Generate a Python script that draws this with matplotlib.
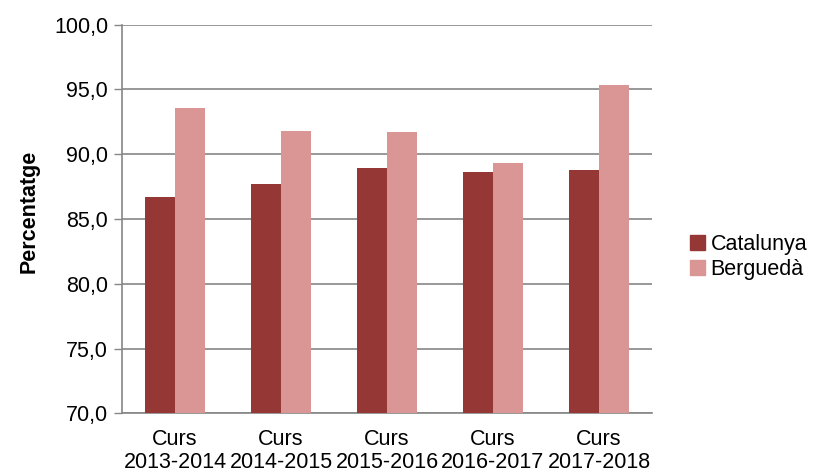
import matplotlib.pyplot as plt
import numpy as np
from matplotlib.patches import Patch

plt.rcParams['font.family'] = ['Liberation Sans', 'DejaVu Sans']

# data
cursos = ['Curs\n2013-2014', 'Curs\n2014-2015', 'Curs\n2015-2016',
          'Curs\n2016-2017', 'Curs\n2017-2018']
catalunya = [86.7, 87.7, 88.9, 88.6, 88.8]
bergueda = [93.6, 91.8, 91.7, 89.3, 95.3]
yticks = [70, 75, 80, 85, 90, 95, 100]

col_cat = '#953735'
col_ber = '#D99694'
grey = '#868686'

fig = plt.figure(figsize=(8.16, 4.72), dpi=100)
ax = fig.add_axes([0.1495, 0.124, 0.6495, 0.824])

x = np.arange(len(cursos))
w = 0.283
ax.bar(x - w/2, catalunya, w, color=col_cat, zorder=3)
ax.bar(x + w/2, bergueda, w, color=col_ber, zorder=3)

ax.set_xlim(-0.5, len(cursos) - 0.5)
ax.set_ylim(70, 100)
ax.set_yticks(yticks)
ax.yaxis.set_major_formatter(plt.FuncFormatter(lambda v, p: ('%.1f' % v).replace('.', ',')))
ax.set_xticks(x)
ax.set_xticklabels(cursos, fontsize=15.5, linespacing=1.12)
ax.tick_params(axis='x', length=0, pad=11)
ax.tick_params(axis='y', length=6, width=1, color=grey, labelsize=15.5, pad=4)

ax.grid(axis='y', color=grey, linewidth=1.2, zorder=0)
for s in ['top', 'right']:
    ax.spines[s].set_visible(False)
for s in ['left', 'bottom']:
    ax.spines[s].set_color(grey)
    ax.spines[s].set_linewidth(1.2)

ax.set_ylabel('Percentatge', fontsize=15.5, fontweight='bold', labelpad=14)
ax.yaxis.set_label_coords(-0.155, 0.52)

handles = [Patch(color=col_cat, label='Catalunya'),
           Patch(color=col_ber, label='Berguedà')]
fig.legend(handles=handles, loc='center left', bbox_to_anchor=(0.835, 0.455),
           frameon=False, fontsize=15.5, handlelength=0.7, handleheight=0.7,
           handletextpad=0.25, labelspacing=0.2, borderaxespad=0)

fig.savefig('out.png', dpi=100)
